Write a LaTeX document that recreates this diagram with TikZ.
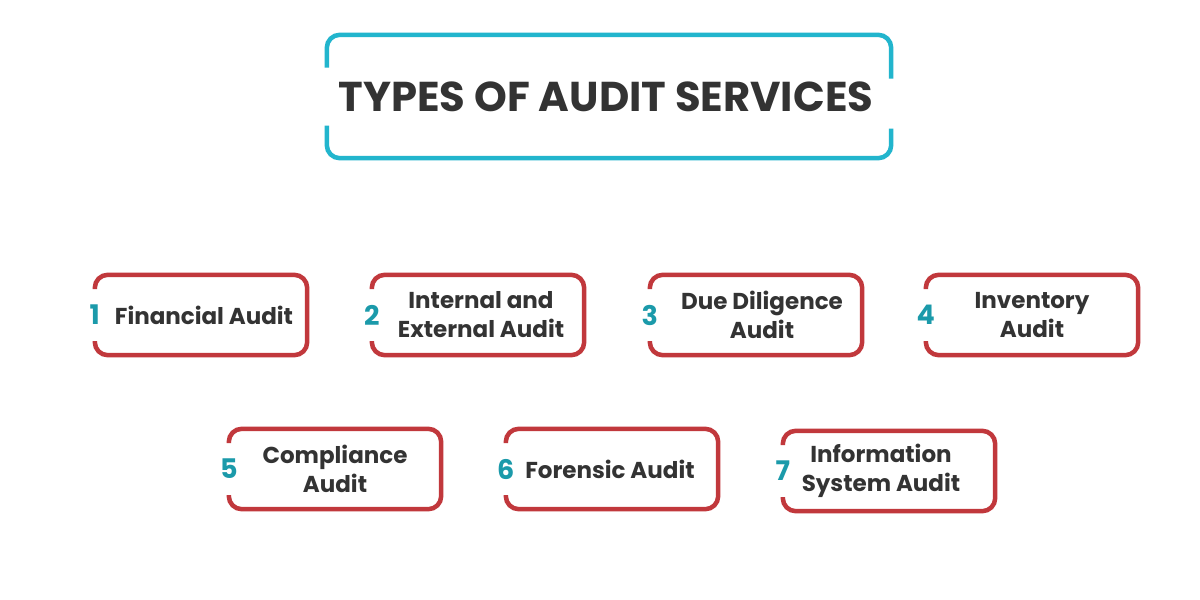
\documentclass[tikz,border=0pt]{standalone}
\usepackage{fontspec}
\setmainfont{Poppins}
\usetikzlibrary{calc}

\definecolor{titlecyan}{HTML}{22B5CD}
\definecolor{boxred}{HTML}{C1383C}
\definecolor{numteal}{HTML}{1B9AAA}
\definecolor{inkgray}{HTML}{333333}

\tikzset{
  titleframe/.style={line width=4.5pt, color=titlecyan, rounded corners=13pt},
  titletext/.style={font=\bfseries\fontsize{41.7}{42}\selectfont, text=inkgray},
  auditframe/.style={line width=4.5pt, color=boxred, rounded corners=13pt},
  auditbox/.style={minimum width=212pt, minimum height=80pt, inner sep=0pt},
  audittext/.style={font=\bfseries\fontsize{23}{29}\selectfont, text=inkgray, align=center},
  auditnum/.style={font=\bfseries\fontsize{27}{27}\selectfont, text=numteal, inner sep=2pt},
}

% card: name, centre, text offset, number, label
\def\auditcard(#1)(#2,#3)[#4]#5#6{%
  \node[auditbox] (#1) at (#2,#3) {};
  \draw[auditframe] ($(#1.west)+(0,-26)$) -- (#1.north west) -- (#1.north east)
    -- (#1.south east) -- (#1.south west) -- ($(#1.west)+(0,26)$);
  \node[audittext] (#1-text) at ($(#1.center)+(#4,0)$) {#6};
  \node[auditnum] (#1-num) at (#1.west) {#5};
}

\begin{document}
\begin{tikzpicture}[x=1pt, y=-1pt]
    %%%%% START %%%%%

    \fill[white] (0,0) rectangle (1200,600);
    \useasboundingbox (0,0) rectangle (1200,600);

    % title
    \node[minimum width=564pt, minimum height=123pt, inner sep=0pt] (title) at (609,96.5) {};
    \draw[titleframe] ($(title.west)+(0,-29)$) -- (title.north west) -- (title.north east)
      -- ($(title.east)+(0,-18)$);
    \draw[titleframe] ($(title.east)+(0,32)$) -- (title.south east) -- (title.south west)
      -- ($(title.west)+(0,29)$);
    \node[titletext] (title-text) at (606,97) {TYPES OF AUDIT SERVICES};

    % first row
    \auditcard(fin)(201,315)[3]{1}{Financial Audit}
    \auditcard(intext)(478,315)[3]{2}{Internal and\\External Audit}
    \auditcard(due)(756,315)[6]{3}{Due Diligence\\Audit}
    \auditcard(inv)(1032,315)[0]{4}{Inventory\\Audit}

    % second row
    \auditcard(comp)(335,469)[0]{5}{Compliance\\Audit}
    \auditcard(for)(612,469)[-2]{6}{Forensic Audit}
    \auditcard(info)(889,471)[-8]{7}{Information\\System Audit}

    %%%%% END %%%%%
\end{tikzpicture}
\end{document}
